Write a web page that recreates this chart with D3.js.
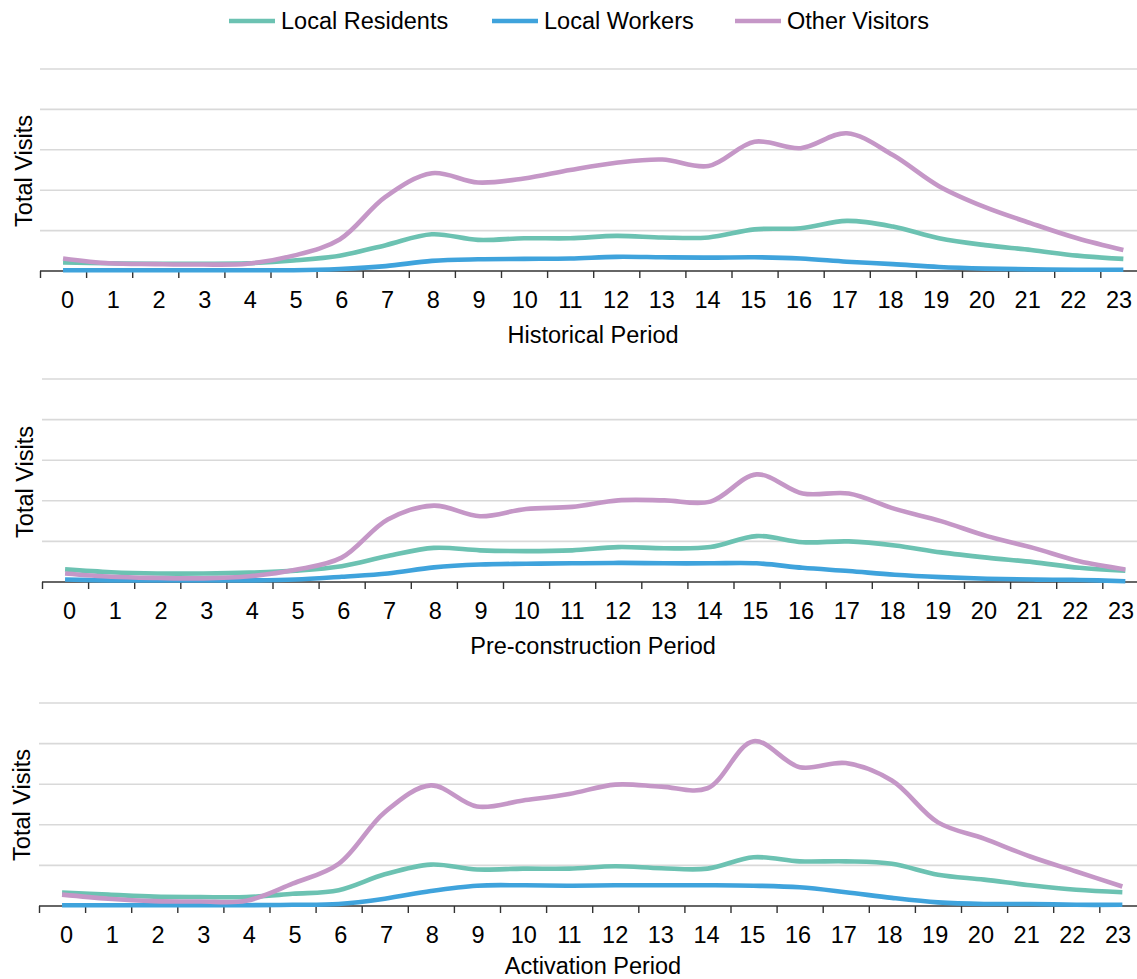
<!DOCTYPE html>
<html>
<head>
<meta charset="utf-8">
<script src="https://cdn.jsdelivr.net/npm/d3@7/dist/d3.min.js"></script>
<style>
  html, body { margin: 0; padding: 0; background: #fff; }
  svg { display: block; font-family: "Liberation Sans", Arial, sans-serif; }
</style>
</head>
<body>
<svg id="chart" width="1137" height="979"></svg>
<script>
// Hour of day categories
const hours = d3.range(24).map(String);

// Series names and gridline values
const seriesNames = ["Local Residents", "Local Workers", "Other Visitors"];
const gridValues = [1000, 2000, 3000, 4000, 5000];

// Historical period: hourly visits
const historicalResidents = [210,190,180,180,190,260,380,640,910,770,810,810,870,830,830,1030,1060,1240,1100,810,640,520,380,300];
const historicalWorkers   = [20,20,20,20,20,20,50,120,250,290,300,310,350,340,330,340,310,230,170,100,60,40,30,30];
const historicalVisitors  = [310,190,170,160,180,380,780,1840,2420,2190,2290,2500,2680,2760,2600,3200,3040,3410,2870,2100,1580,1180,810,520];

// Pre-construction period: hourly visits
const preResidents = [310,240,210,210,230,280,390,640,840,780,760,780,860,830,860,1130,980,1000,900,730,600,490,350,280];
const preWorkers   = [60,40,40,40,40,60,130,210,360,430,450,460,470,460,460,460,350,270,180,120,80,60,50,20];
const preVisitors  = [210,130,100,90,140,300,600,1540,1880,1620,1800,1850,2010,2010,1980,2650,2180,2180,1800,1500,1130,840,510,310];

// Activation period: hourly visits
const actResidents = [330,280,230,220,220,300,390,780,1020,900,920,920,980,930,920,1200,1100,1100,1040,770,650,510,400,340];
const actWorkers   = [20,20,20,20,20,30,50,180,370,500,510,500,510,510,510,500,460,340,200,90,50,50,30,30];
const actVisitors  = [280,180,120,110,130,550,1040,2310,2970,2450,2600,2760,2990,2940,2900,4060,3420,3520,3090,2060,1660,1220,850,480];

const periodTitles = ["Historical Period", "Pre-construction Period", "Activation Period"];

const colors = { "Local Residents": "#6cc2b2", "Local Workers": "#3fa3dc", "Other Visitors": "#c597c7" };

const panels = [
  { title: periodTitles[0], series: [historicalResidents, historicalWorkers, historicalVisitors],
    left: 40, bottom: 271, top: 69, yLabelX: 24, yLabelY: 171, titleY: 335 },
  { title: periodTitles[1], series: [preResidents, preWorkers, preVisitors],
    left: 42, bottom: 582, top: 379, yLabelX: 25, yLabelY: 482, titleY: 646 },
  { title: periodTitles[2], series: [actResidents, actWorkers, actVisitors],
    left: 39, bottom: 906, top: 703, yLabelX: 22, yLabelY: 805, titleY: 966 }
];

const svg = d3.select("#chart");
const W = 1137;
const step = 46.1;
const labelStep = 45.72;
const fontSize = 23.5;

panels.forEach(p => {
  const g = svg.append("g");
  // category boundaries along x (the plot runs past the right edge)
  const xb = d3.scaleLinear().domain([0, 24]).range([p.left, p.left + step * 24]);
  const x = d3.scaleBand().domain(hours).range([p.left, p.left + step * 24]);
  // hour label positions
  const xl = d3.scalePoint().domain(hours).range([p.left + 27, p.left + 27 + labelStep * 23]);
  const y = d3.scaleLinear().domain([0, 5000]).range([p.bottom, p.top]);

  // gridlines
  g.append("g")
    .selectAll("line")
    .data(gridValues)
    .join("line")
    .attr("x1", p.left).attr("x2", W)
    .attr("y1", d => y(d)).attr("y2", d => y(d))
    .attr("stroke", "#d9d9d9")
    .attr("stroke-width", 1.6);

  // category axis: tick marks between categories
  const axisG = g.append("g")
    .attr("transform", `translate(0,${p.bottom})`)
    .call(d3.axisBottom(xb).tickValues(d3.range(25)).tickSize(7).tickFormat(""));
  axisG.select(".domain").remove();
  axisG.selectAll(".tick line").attr("stroke", "#333").attr("stroke-width", 1.4);
  axisG.append("line")
    .attr("x1", p.left).attr("x2", W).attr("y1", 0).attr("y2", 0)
    .attr("stroke", "#333").attr("stroke-width", 1.6);

  // hour labels
  const labelG = g.append("g")
    .attr("transform", `translate(0,${p.bottom})`)
    .call(d3.axisBottom(xl).tickSize(0).tickPadding(0));
  labelG.select(".domain").remove();
  labelG.selectAll(".tick text")
    .attr("y", 29)
    .attr("dy", "0.35em")
    .attr("fill", "#000")
    .style("font-size", fontSize + "px")
    .style("font-family", "'Liberation Sans', Arial, sans-serif");

  // series lines
  const line = d3.line()
    .x((d, i) => x(hours[i]) + x.bandwidth() / 2)
    .y(d => y(d))
    .curve(d3.curveCatmullRom.alpha(0.5));

  seriesNames.forEach((name, k) => {
    g.append("path")
      .datum(p.series[k])
      .attr("d", line)
      .attr("fill", "none")
      .attr("stroke", colors[name])
      .attr("stroke-width", 4.6)
      .attr("stroke-linejoin", "round");
  });

  // axis titles
  g.append("text")
    .attr("x", 593).attr("y", p.titleY)
    .attr("dy", "0.35em")
    .attr("text-anchor", "middle")
    .style("font-size", fontSize + "px")
    .text(p.title);

  g.append("text")
    .attr("transform", `translate(${p.yLabelX},${p.yLabelY}) rotate(-90)`)
    .attr("dy", "0.35em")
    .attr("text-anchor", "middle")
    .style("font-size", fontSize + "px")
    .text("Total Visits");
});

// legend
const legendX = [229, 492, 735];
const legend = svg.append("g");
seriesNames.forEach((name, k) => {
  const lg = legend.append("g").attr("transform", `translate(${legendX[k]},21)`);
  lg.append("line")
    .attr("x1", 0).attr("x2", 46).attr("y1", 0).attr("y2", 0)
    .attr("stroke", colors[name]).attr("stroke-width", 4.6);
  lg.append("text")
    .attr("x", 52).attr("dy", "0.35em")
    .style("font-size", fontSize + "px")
    .text(name);
});
</script>
</body>
</html>
